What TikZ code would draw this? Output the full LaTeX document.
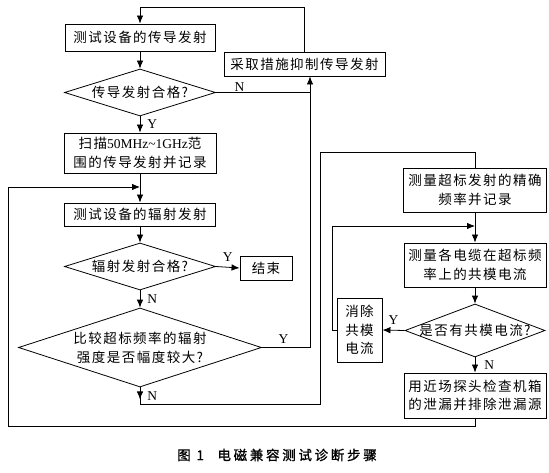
\documentclass[tikz,border=0pt]{standalone}
\usepackage{fontspec}
\setmainfont{Liberation Serif}
\newfontfamily\cjk[LetterSpace=11]{Noto Sans CJK SC}
\newfontfamily\cjkcap[LetterSpace=20,FakeBold=1.2]{Noto Sans CJK SC}
\usetikzlibrary{shapes.geometric,arrows.meta,decorations.markings}

\tikzstyle{process}=[rectangle,
                        draw=black,
                        line width=0.9pt,
                        fill=white,
                        align=center,
                        inner sep=1pt,
                        font=\cjk\fontsize{13.5}{18.5}\selectfont]
\tikzstyle{decision}=[diamond,
                        draw=black,
                        line width=0.8pt,
                        aspect=3.2,
                        inner xsep=-12pt,
                        inner ysep=0pt,
                        align=center,
                        font=\cjk\fontsize{13.5}{19}\selectfont]
\tikzstyle{answer}=[inner sep=1pt,
                        font=\fontsize{13.5}{15}\selectfont]
\tikzstyle{flow}=[line width=0.8pt]
\tikzset{midarrow/.style={postaction={decorate},
    decoration={markings,mark=at position 12pt with {\arrow{Latex[length=8pt,width=6.5pt]}}}}}

\begin{document}
\begin{tikzpicture}[x=1pt,y=-1pt,>={Latex[length=8pt,width=6.5pt]}]
  \useasboundingbox (0,0) rectangle (549,473);
  % The steps of the left column:
  \node (cond) [process, minimum width=150pt, minimum height=27pt] at (140,37.5) {测试设备的传导发射};
  \node (condok) [decision, minimum width=151pt, minimum height=47pt] at (140,92.5) {传导发射合格?};
  \node (scan) [process, minimum width=152pt, minimum height=40pt] at (140,153)
        {扫描{\rmfamily 50MHz\textasciitilde1GHz}范\\围的传导发射并记录};
  \node (fix) [process, minimum width=161pt, minimum height=24pt] at (304.5,64) {采取措施抑制传导发射};
  \node (rad) [process, minimum width=151pt, minimum height=23pt] at (140,214.5) {测试设备的辐射发射};
  \node (radok) [decision, minimum width=151pt, minimum height=47pt] at (140,266.5) {辐射发射合格?};
  \node (finish) [process, minimum width=52pt, minimum height=24pt] at (266,268) {结束};
  \node (cmp) [decision, minimum width=243pt, minimum height=79pt] at (140,347.5)
        {比较超标频率的辐射\\强度是否幅度较大?};

  % The steps of the right column:
  \node (freq) [process, minimum width=143pt, minimum height=44pt] at (475,190)
        {测量超标发射的精确\\频率并记录};
  \node (cable) [process, minimum width=142pt, minimum height=44pt] at (475,265)
        {测量各电缆在超标频\\率上的共模电流};
  \node (cmok) [decision, minimum width=140pt, minimum height=53pt] at (475,330.5) {是否有共模电流?};
  \node (elim) [process, minimum width=45pt, minimum height=64pt] at (359.5,330) {消除\\共模\\电流};
  \node (probe) [process, minimum width=142pt, minimum height=45pt] at (475,395.5)
        {用近场探头检查机箱\\的泄漏并排除泄漏源};

  \node (caption) at (277,455) {\cjkcap\fontsize{13.5}{16}\selectfont 图 1\quad 电磁兼容测试诊断步骤};

  % Corners of the loops:
  \coordinate (top) at (0,7);
  \coordinate (rise) at (310,0);
  \coordinate (bot) at (8,426);
  \coordinate (back) at (8,187);
  \coordinate (nb) at (320,404);
  \coordinate (nt) at (320,152);
  \coordinate (ret) at (332,226);

  % The connectors:
  \draw[flow,->] (fix.north) -- (fix.north |- top) -| (cond.north);
  \draw[flow,->] (cond.south) -- (condok.north);
  \draw[flow] (condok.east) -- node[answer, above, near start] {N} (condok.east -| rise);
  \draw[flow,->] (condok.south) -- node[answer, right=6pt] {Y} (scan.north);
  \draw[flow,->] (scan.south) -- (rad.north);
  \draw[flow,->] (probe.south) |- (bot) -- (back) -- (back -| rad.north);
  \draw[flow,->] (rad.south) -- (radok.north);
  \draw[flow,->] (radok.east) -- node[answer, above=4pt] {Y} (finish.west);
  \draw[flow,->] (radok.south) -- node[answer, right=6pt] {N} (cmp.north);
  \draw[flow,->] (cmp.east) -- node[answer, above=3pt, pos=0.45] {Y} (cmp.east -| rise) -- (rise |- fix.south);
  \draw[flow,midarrow] (cmp.south) -- node[answer, right=6pt] {N} (cmp.south |- nb) -- (nb) -- (nt) -| (freq.north);
  \draw[flow,->] (freq.south) -- (cable.north);
  \draw[flow,->] (elim.west) -| (ret) -- (ret -| cable.north);
  \draw[flow,->] (cable.south) -- (cmok.north);
  \draw[flow,->] (cmok.west) -- node[answer, above=4pt] {Y} (elim.east);
  \draw[flow,->] (cmok.south) -- node[answer, right=8pt] {N} (probe.north);
\end{tikzpicture}
\end{document}
